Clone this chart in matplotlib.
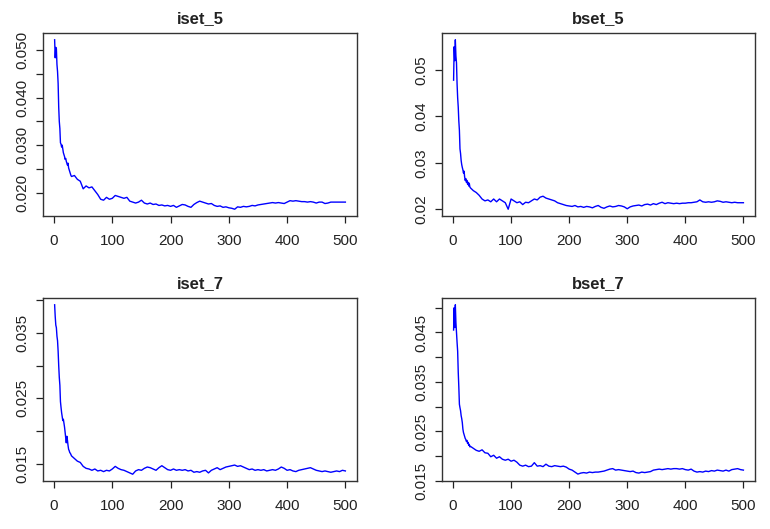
import matplotlib
matplotlib.use("Agg")
import matplotlib.pyplot as plt
import numpy as np

plt.rcParams['font.family'] = ['Liberation Sans', 'DejaVu Sans']

# iteration index: every step up to 30, then every 5th
iters = list(range(1, 31)) + list(range(35, 501, 5))

iset_5 = [0.0522, 0.0484, 0.0506, 0.0503, 0.0470, 0.0455, 0.0430, 0.0380, 0.0350, 0.0335,
          0.0305, 0.0302, 0.0296, 0.0300, 0.0292, 0.0284, 0.0280, 0.0276, 0.0270, 0.0272,
          0.0266, 0.0262, 0.0258, 0.0262, 0.0252, 0.0248, 0.0244, 0.0240, 0.0236, 0.0234,
          0.0236, 0.0228, 0.0224, 0.0208, 0.0214, 0.0210, 0.0212, 0.0204, 0.0196, 0.0186,
          0.0184, 0.0190, 0.0186, 0.0188, 0.0194, 0.0192, 0.0190, 0.0188, 0.0190, 0.0182,
          0.0180, 0.0178, 0.0180, 0.0184, 0.0178, 0.0176, 0.0178, 0.0175, 0.0176, 0.0173,
          0.0174, 0.0172, 0.0173, 0.0171, 0.0173, 0.0169, 0.0172, 0.0175, 0.0174, 0.0171,
          0.0169, 0.0175, 0.0179, 0.0182, 0.0180, 0.0178, 0.0176, 0.0177, 0.0173, 0.0171,
          0.0172, 0.0169, 0.0170, 0.0168, 0.0167, 0.0165, 0.0170, 0.0169, 0.0171, 0.0170,
          0.0171, 0.0173, 0.0172, 0.0174, 0.0175, 0.0176, 0.0177, 0.0178, 0.0179, 0.0178,
          0.0179, 0.0178, 0.0177, 0.0180, 0.0183, 0.0182, 0.0183, 0.0182, 0.0181, 0.0181,
          0.0180, 0.0181, 0.0180, 0.0178, 0.0180, 0.0180, 0.0177, 0.0178, 0.0180, 0.0180,
          0.0180, 0.0180, 0.0180, 0.0180]

bset_5 = [0.0478, 0.0550, 0.0520, 0.0565, 0.0530, 0.0515, 0.0470, 0.0440, 0.0420, 0.0390,
          0.0370, 0.0330, 0.0320, 0.0305, 0.0296, 0.0290, 0.0285, 0.0278, 0.0282, 0.0270,
          0.0262, 0.0266, 0.0258, 0.0262, 0.0254, 0.0258, 0.0250, 0.0256, 0.0248, 0.0246,
          0.0240, 0.0236, 0.0230, 0.0222, 0.0218, 0.0220, 0.0216, 0.0222, 0.0216, 0.0222,
          0.0218, 0.0214, 0.0200, 0.0222, 0.0218, 0.0214, 0.0216, 0.0210, 0.0215, 0.0214,
          0.0218, 0.0222, 0.0220, 0.0226, 0.0228, 0.0224, 0.0222, 0.0220, 0.0218, 0.0214,
          0.0212, 0.0210, 0.0208, 0.0207, 0.0206, 0.0208, 0.0205, 0.0206, 0.0204, 0.0206,
          0.0205, 0.0203, 0.0206, 0.0208, 0.0204, 0.0202, 0.0205, 0.0207, 0.0205, 0.0206,
          0.0208, 0.0207, 0.0205, 0.0201, 0.0205, 0.0207, 0.0208, 0.0209, 0.0207, 0.0210,
          0.0211, 0.0209, 0.0212, 0.0210, 0.0213, 0.0215, 0.0212, 0.0214, 0.0213, 0.0212,
          0.0213, 0.0212, 0.0213, 0.0213, 0.0214, 0.0214, 0.0215, 0.0216, 0.0220, 0.0216,
          0.0215, 0.0216, 0.0215, 0.0216, 0.0218, 0.0217, 0.0215, 0.0216, 0.0215, 0.0214,
          0.0215, 0.0214, 0.0214, 0.0214]

iset_7 = [0.0393, 0.0375, 0.0362, 0.0358, 0.0345, 0.0338, 0.0322, 0.0300, 0.0282, 0.0270,
          0.0245, 0.0236, 0.0228, 0.0222, 0.0216, 0.0218, 0.0212, 0.0206, 0.0198, 0.0190,
          0.0182, 0.0192, 0.0186, 0.0178, 0.0172, 0.0170, 0.0167, 0.0166, 0.0164, 0.0162,
          0.0158, 0.0154, 0.0152, 0.0146, 0.0143, 0.0142, 0.0140, 0.0142, 0.0139, 0.0140,
          0.0138, 0.0140, 0.0139, 0.0142, 0.0146, 0.0143, 0.0141, 0.0140, 0.0138, 0.0136,
          0.0134, 0.0139, 0.0141, 0.0140, 0.0143, 0.0145, 0.0144, 0.0142, 0.0140, 0.0144,
          0.0147, 0.0144, 0.0141, 0.0140, 0.0142, 0.0140, 0.0141, 0.0140, 0.0141, 0.0139,
          0.0140, 0.0137, 0.0138, 0.0137, 0.0139, 0.0140, 0.0136, 0.0140, 0.0142, 0.0144,
          0.0141, 0.0143, 0.0145, 0.0146, 0.0147, 0.0148, 0.0146, 0.0147, 0.0145, 0.0143,
          0.0141, 0.0142, 0.0140, 0.0141, 0.0140, 0.0141, 0.0139, 0.0140, 0.0141, 0.0140,
          0.0142, 0.0145, 0.0143, 0.0140, 0.0141, 0.0139, 0.0138, 0.0140, 0.0141, 0.0142,
          0.0143, 0.0144, 0.0142, 0.0140, 0.0139, 0.0138, 0.0139, 0.0138, 0.0137, 0.0138,
          0.0139, 0.0138, 0.0140, 0.0139]

bset_7 = [0.0455, 0.0500, 0.0460, 0.0506, 0.0470, 0.0450, 0.0430, 0.0412, 0.0370, 0.0340,
          0.0305, 0.0298, 0.0292, 0.0282, 0.0276, 0.0268, 0.0255, 0.0248, 0.0244, 0.0240,
          0.0236, 0.0234, 0.0230, 0.0232, 0.0226, 0.0228, 0.0222, 0.0224, 0.0219, 0.0220,
          0.0216, 0.0212, 0.0210, 0.0213, 0.0207, 0.0206, 0.0199, 0.0202, 0.0196, 0.0199,
          0.0194, 0.0192, 0.0194, 0.0190, 0.0192, 0.0188, 0.0182, 0.0180, 0.0182, 0.0179,
          0.0180, 0.0187, 0.0180, 0.0181, 0.0179, 0.0184, 0.0180, 0.0179, 0.0181, 0.0180,
          0.0179, 0.0180, 0.0178, 0.0174, 0.0172, 0.0168, 0.0164, 0.0166, 0.0167, 0.0166,
          0.0168, 0.0167, 0.0168, 0.0168, 0.0169, 0.0170, 0.0172, 0.0174, 0.0175, 0.0172,
          0.0173, 0.0172, 0.0171, 0.0170, 0.0169, 0.0170, 0.0167, 0.0166, 0.0168, 0.0167,
          0.0168, 0.0169, 0.0172, 0.0173, 0.0174, 0.0173, 0.0174, 0.0175, 0.0174, 0.0175,
          0.0175, 0.0174, 0.0175, 0.0173, 0.0172, 0.0174, 0.0170, 0.0168, 0.0169, 0.0168,
          0.0170, 0.0169, 0.0171, 0.0170, 0.0172, 0.0171, 0.0170, 0.0172, 0.0170, 0.0173,
          0.0174, 0.0175, 0.0173, 0.0172]

titles = ["iset_5", "bset_5", "iset_7", "bset_7"]
series = [iset_5, bset_5, iset_7, bset_7]

# y ticks (all) and which of them carry a label, like R drops overlapping ones
yticks = [
    [0.020, 0.025, 0.030, 0.035, 0.040, 0.045, 0.050],
    [0.02, 0.03, 0.04, 0.05],
    [0.015, 0.020, 0.025, 0.030, 0.035, 0.040],
    [0.015, 0.020, 0.025, 0.030, 0.035, 0.040, 0.045, 0.050],
]
ylabels = [
    ["0.020", "", "0.030", "", "0.040", "", "0.050"],
    ["0.02", "0.03", "0.04", "0.05"],
    ["0.015", "", "0.025", "", "0.035", ""],
    ["0.015", "", "0.025", "", "0.035", "", "0.045", ""],
]

# axes boxes in pixels: left, top, right, bottom
W, H = 770, 529
boxes = [(43, 33, 357, 216), (442, 33, 755, 216),
         (43, 298, 357, 481), (442, 298, 755, 481)]

fig = plt.figure(figsize=(W / 100, H / 100), dpi=100)

for i in range(4):
    l, t, r, b = boxes[i]
    ax = fig.add_axes([l / W, 1 - b / H, (r - l) / W, (b - t) / H])
    ax.plot(iters, series[i], color='#0000ff', lw=1.0)
    ax.margins(x=0.04, y=0.04)
    ax.set_xticks([0, 100, 200, 300, 400, 500])
    ax.set_yticks(yticks[i])
    ax.set_yticklabels(ylabels[i], rotation=90, va='center')
    ax.tick_params(direction='out', length=5, width=0.9, labelsize=11,
                   colors='#222222', pad=8)
    ax.tick_params(axis='y', pad=5)
    for s in ax.spines.values():
        s.set_linewidth(1.0)
        s.set_color('#333333')
    ax.set_title(titles[i], fontsize=12, fontweight='bold', pad=7, color='#222222')

fig.savefig("out.png", dpi=100)
